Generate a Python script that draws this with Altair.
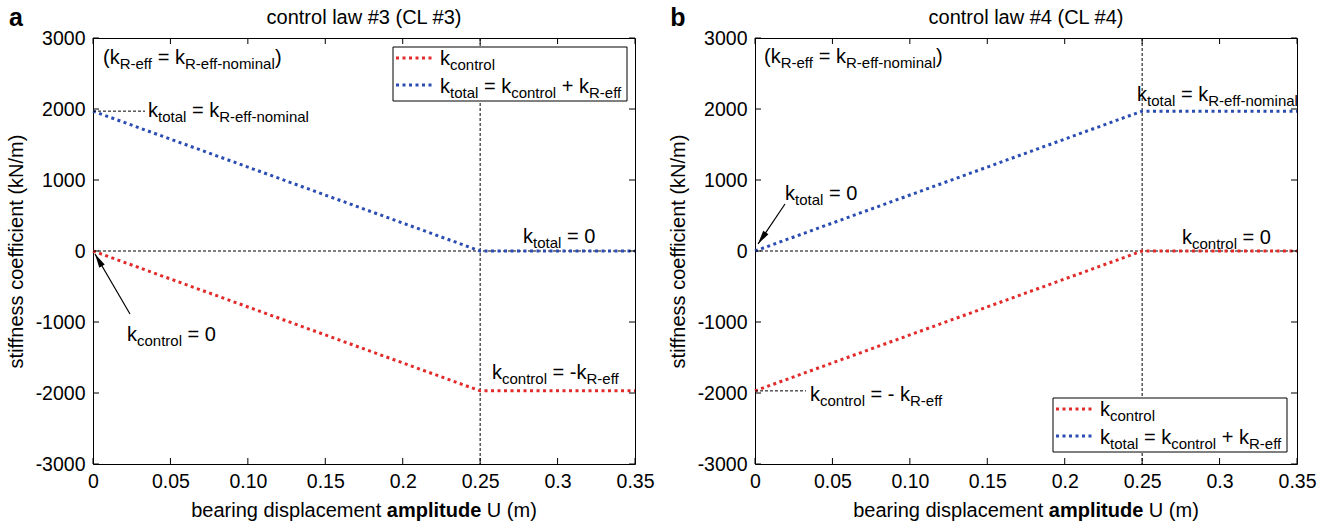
import altair as alt
import pandas as pd

# ---------------- data ----------------
U = [0.0, 0.25, 0.35]
CL3_CONTROL = [0, -1970, -1970]
CL3_TOTAL = [1970, 0, 0]
CL4_CONTROL = [-1970, 0, 0]
CL4_TOTAL = [0, 1970, 1970]
K_NOMINAL = 1970
U_KNEE = 0.25
X_TICKS = [0, 0.05, 0.10, 0.15, 0.2, 0.25, 0.3, 0.35]
X_LABELS = ["0", "0.05", "0.10", "0.15", "0.2", "0.25", "0.3", "0.35"]
Y_TICKS = [-3000, -2000, -1000, 0, 1000, 2000, 3000]
PANEL_TITLES = ["control law #3 (CL #3)", "control law #4 (CL #4)"]
PANEL_LETTERS = ["a", "b"]
SERIES = ["control", "total"]

# ---------------- style ----------------
FONT = "Liberation Sans"
W, H = 542, 426
RED, BLUE = "#e32a2a", "#2b4db3"
MAIN, SUB, TICKF = 20, 15, 19.5
XS = alt.Scale(domain=[0, 0.35], nice=False, zero=False)
YS = alt.Scale(domain=[-3000, 3000], nice=False, zero=False)

label_expr = "[" + ",".join("'%s'" % l for l in X_LABELS) + "][indexof([" + \
    ",".join(repr(v) for v in X_TICKS) + "], datum.value)]"
XAX = alt.Axis(values=X_TICKS, labelExpr=label_expr, title=None)
YAX = alt.Axis(values=Y_TICKS, labelExpr="'' + datum.value", title="stiffness coefficient (kN/m)")

AW = {" ": 278, "(": 333, ")": 333, "=": 584, "+": 584, "-": 333, "#": 556, ".": 278,
      "a": 556, "b": 556, "c": 500, "d": 556, "e": 556, "f": 278, "g": 556, "h": 556,
      "i": 222, "j": 222, "k": 500, "l": 222, "m": 833, "n": 556, "o": 556, "p": 556,
      "q": 556, "r": 333, "s": 500, "t": 278, "u": 556, "v": 500, "w": 722, "x": 500,
      "y": 500, "z": 500, "R": 722, "C": 722, "L": 556, "U": 722}
AWB = {"a": 556, "m": 889, "p": 611, "l": 278, "i": 278, "t": 333, "u": 611, "d": 611, "e": 556}


def tw(s, fs, bold=False):
    tab = AWB if bold else AW
    return sum(tab.get(c, AW.get(c, 556)) for c in s) * fs / 1000.0


ONE = pd.DataFrame({"o": [0]})


def rich(segs, px, py, anchor="left"):
    total = sum(tw(t, SUB if k == "s" else MAIN, k == "b") for t, k in segs)
    off = 0.0 if anchor == "left" else -total / 2.0
    out = []
    for txt, kind in segs:
        fs = SUB if kind == "s" else MAIN
        bold = kind == "b"
        lead = len(txt) - len(txt.lstrip(" "))
        core = txt.strip(" ")
        trail = len(txt) - lead - len(core)
        off += tw(" " * lead, fs, bold)
        if core:
            out.append(
                alt.Chart(ONE).mark_text(
                    text=core, align="left", baseline="alphabetic",
                    font=FONT, fontSize=fs, fontWeight="bold" if bold else "normal",
                    color="black",
                ).encode(x=alt.value(px + off), y=alt.value(py + (5 if kind == "s" else 0)))
            )
        off += tw(core, fs, bold) + tw(" " * trail, fs, bold)
    return out


def arrow(tail, tip, angle):
    shaft = alt.Chart(ONE).mark_rule(color="black", strokeWidth=1.2).encode(
        x=alt.value(tail[0]), y=alt.value(tail[1]), x2=alt.value(tip[0]), y2=alt.value(tip[1]))
    head = alt.Chart(ONE).mark_point(
        shape="M0,0L-0.45,2L0.45,2Z", filled=True, color="black", opacity=1,
        size=196, angle=angle, strokeWidth=0,
    ).encode(x=alt.value(tip[0]), y=alt.value(tip[1]))
    return [shaft, head]


def legend(left, top):
    box = alt.Chart(ONE).mark_rect(fill="white", stroke="black", strokeWidth=1).encode(
        x=alt.value(left), x2=alt.value(left + 234), y=alt.value(top), y2=alt.value(top + 54))
    out = [box]
    for i, col in enumerate([RED, BLUE]):
        yy = top + 11 + 27 * i
        out.append(alt.Chart(ONE).mark_rule(color=col, strokeWidth=3, strokeDash=[3, 3.5],
                                            strokeCap="butt").encode(
            x=alt.value(left + 3), x2=alt.value(left + 39), y=alt.value(yy)))
    out += rich([("k", "n"), ("control", "s")], left + 47, top + 18)
    out += rich([("k", "n"), ("total", "s"), (" = k", "n"), ("control", "s"),
                 (" + k", "n"), ("R-eff", "s")], left + 47, top + 46)
    return out


def panel(idx, control, total, texts, arrows, leader_y, leader_len, legend_pos):
    df = pd.DataFrame({"U": U * 2, "k": control + total,
                       "series": [SERIES[0]] * len(U) + [SERIES[1]] * len(U)})
    lines = alt.Chart(df).mark_line(strokeDash=[3, 3.5], strokeWidth=3, strokeCap="butt").encode(
        x=alt.X("U:Q", scale=XS, axis=XAX),
        y=alt.Y("k:Q", scale=YS, axis=YAX),
        color=alt.Color("series:N", scale=alt.Scale(domain=SERIES, range=[RED, BLUE]), legend=None),
        detail="series:N",
    )
    hline = alt.Chart(pd.DataFrame({"U": [0.0], "x1": [0.35], "k": [0]})).mark_rule(
        color="black", strokeWidth=1, strokeDash=[3, 2]).encode(
        x=alt.X("U:Q", scale=XS, axis=XAX), x2="x1:Q", y=alt.Y("k:Q", scale=YS, axis=YAX))
    vline = alt.Chart(pd.DataFrame({"U": [U_KNEE]})).mark_rule(
        color="black", strokeWidth=1, strokeDash=[3, 2]).encode(
        x=alt.X("U:Q", scale=XS, axis=XAX), y=alt.value(0), y2=alt.value(H))
    leader = alt.Chart(pd.DataFrame({"U": [0.0], "k": [leader_y]})).mark_rule(
        color="black", strokeWidth=1, strokeDash=[3, 2]).encode(
        x=alt.X("U:Q", scale=XS, axis=XAX), x2=alt.value(leader_len),
        y=alt.Y("k:Q", scale=YS, axis=YAX))
    xt = pd.DataFrame({"U": X_TICKS})
    yt = pd.DataFrame({"k": Y_TICKS})
    ticks = [
        alt.Chart(xt).mark_rule(color="black").encode(
            x=alt.X("U:Q", scale=XS, axis=XAX), y=alt.value(H), y2=alt.value(H - 6)),
        alt.Chart(xt).mark_rule(color="black").encode(
            x=alt.X("U:Q", scale=XS, axis=XAX), y=alt.value(0), y2=alt.value(6)),
        alt.Chart(yt).mark_rule(color="black").encode(
            y=alt.Y("k:Q", scale=YS, axis=YAX), x=alt.value(0), x2=alt.value(6)),
        alt.Chart(yt).mark_rule(color="black").encode(
            y=alt.Y("k:Q", scale=YS, axis=YAX), x=alt.value(W), x2=alt.value(W - 6)),
    ]
    layers = [hline, vline, lines, leader] + legend(*legend_pos)
    for segs, px, py in texts:
        layers += rich(segs, px, py)
    for tail, tip, ang in arrows:
        layers += arrow(tail, tip, ang)
    layers += rich([("bearing displacement ", "n"), ("amplitude", "b"), (" U (m)", "n")],
                   W / 2, H + 53, anchor="center")
    layers.append(alt.Chart(ONE).mark_text(text=PANEL_LETTERS[idx], font=FONT, fontSize=25,
                                           fontWeight="bold", align="center",
                                           baseline="alphabetic", color="black").encode(
        x=alt.value(-77), y=alt.value(-12)))
    layers.append(alt.Chart(ONE).mark_text(text=PANEL_TITLES[idx], font=FONT, fontSize=20,
                                           align="center", baseline="alphabetic",
                                           color="black").encode(
        x=alt.value(W / 2), y=alt.value(-14)))
    layers += ticks
    return alt.layer(*layers).properties(width=W, height=H)


left_texts = [
    ([("(k", "n"), ("R-eff", "s"), (" = k", "n"), ("R-eff-nominal", "s"), (")", "n")], 10, 26),
    ([("k", "n"), ("total", "s"), (" = k", "n"), ("R-eff-nominal", "s")], 55, 79),
    ([("k", "n"), ("total", "s"), (" = 0", "n")], 430, 205),
    ([("k", "n"), ("control", "s"), (" = -k", "n"), ("R-eff", "s")], 399, 341),
    ([("k", "n"), ("control", "s"), (" = 0", "n")], 34, 303),
]
right_texts = [
    ([("(k", "n"), ("R-eff", "s"), (" = k", "n"), ("R-eff-nominal", "s"), (")", "n")], 9, 25),
    ([("k", "n"), ("total", "s"), (" = k", "n"), ("R-eff-nominal", "s")], 382, 63),
    ([("k", "n"), ("total", "s"), (" = 0", "n")], 30, 162),
    ([("k", "n"), ("control", "s"), (" = 0", "n")], 427, 206),
    ([("k", "n"), ("control", "s"), (" = - k", "n"), ("R-eff", "s")], 55, 363),
]

left = panel(0, CL3_CONTROL, CL3_TOTAL, left_texts, [((37, 276), (2, 216), 330)],
             K_NOMINAL, 52, (300, 9))
right = panel(1, CL4_CONTROL, CL4_TOTAL, right_texts, [((30, 166), (3, 206), 214)],
              -K_NOMINAL, 51, (298, 360))

chart = alt.hconcat(left, right, spacing=120, bounds="flush").properties(
    padding={"left": 5, "top": 5, "right": 5, "bottom": 5}, background="white"
).configure_view(stroke="black", strokeWidth=1).configure_axis(
    labelFont=FONT, labelFontSize=TICKF, labelColor="black", titleFont=FONT, titleFontSize=20,
    titleFontWeight="normal", titleColor="black", ticks=False, domain=False, grid=False,
    labelPadding=8, labelFlush=False, titlePadding=9,
)

chart.save("out.html", embed_options={"renderer": "svg", "actions": False})
